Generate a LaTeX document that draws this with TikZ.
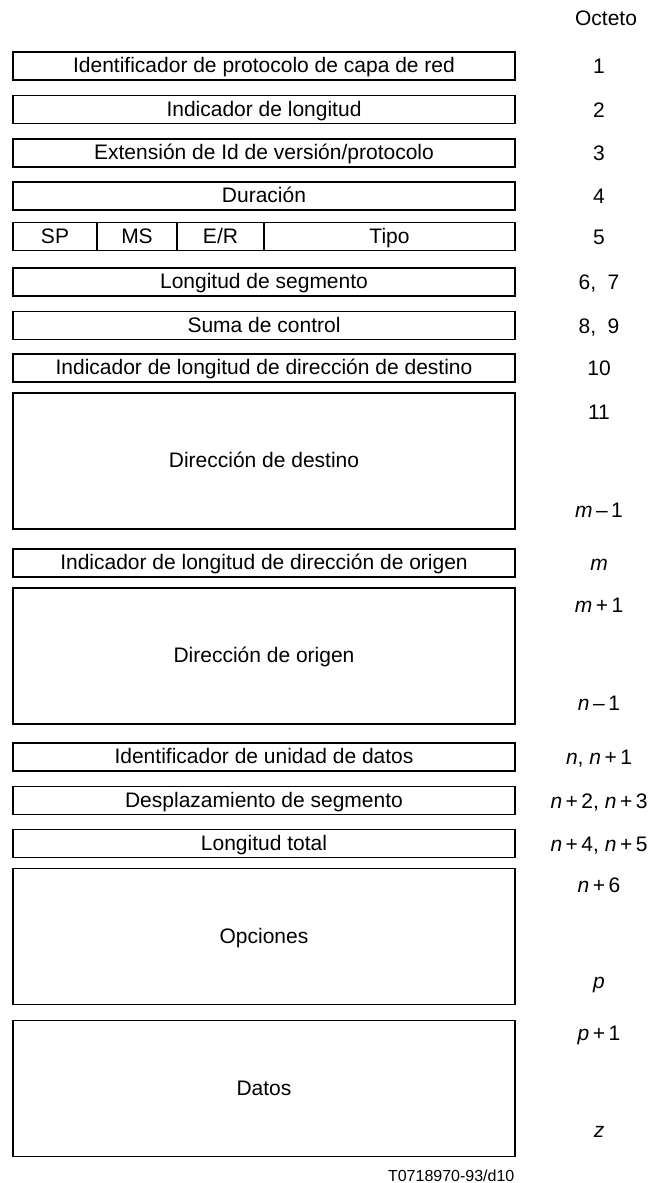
\documentclass[tikz,border=0pt]{standalone}
\usepackage{fontspec}
\setmainfont{Liberation Sans}
\usetikzlibrary{positioning}

\begin{document}
\begin{tikzpicture}[x=1pt,y=-1pt,line width=1.2pt,
		field/.style={draw,minimum width=502pt,minimum height=28pt,inner sep=0pt,outer sep=0pt,
			text height=13pt,text depth=0pt,font=\fontsize{21}{25}\selectfont},
		bigfield/.style={field,minimum height=136pt},
		octet/.style={inner sep=0pt,text height=15pt,text depth=0pt,font=\fontsize{21}{25}\selectfont}]

		\useasboundingbox (0,0) rectangle (650,1183);

		\node[octet] (oct) at (606,18) {Octeto};

		\node[field] (f1) at (264,66) {Identificador de protocolo de capa de red};
		\node[field] (f2) at (264,109.5) {Indicador de longitud};
		\node[field] (f3) at (264,153) {Extensión de Id de versión/protocolo};
		\node[field] (f4) at (264,196) {Duración};

		\node[field,minimum width=84pt] (sp) at (55,236.5) {SP};
		\node[field,minimum width=80pt] (ms) [right=0pt of sp] {MS};
		\node[field,minimum width=87pt] (er) [right=0pt of ms] {E/R};
		\node[field,minimum width=251pt] (tipo) [right=0pt of er] {Tipo};

		\node[field] (f6) at (264,282) {Longitud de segmento};
		\node[field] (f7) at (264,325.5) {Suma de control};
		\node[field] (f8) at (264,368) {Indicador de longitud de dirección de destino};
		\node[bigfield] (f9) at (264,461) {Dirección de destino};
		\node[field] (f10) at (264,563) {Indicador de longitud de dirección de origen};
		\node[bigfield] (f11) at (264,656) {Dirección de origen};
		\node[field] (f12) at (264,757) {Identificador de unidad de datos};
		\node[field] (f13) at (264,800.5) {Desplazamiento de segmento};
		\node[field] (f14) at (264,843.5) {Longitud total};
		\node[bigfield] (f15) at (264,936.5) {Opciones};
		\node[bigfield] (f16) at (264,1088.5) {Datos};

		% numeros de octeto
		\node[octet] (o1) at (599,66) {1};
		\node[octet] (o2) at (599,109.5) {2};
		\node[octet] (o3) at (599,153) {3};
		\node[octet] (o4) at (599,196) {4};
		\node[octet] (o5) at (599,236.5) {5};
		\node[octet] (o6) at (599,282) {6,\ \ 7};
		\node[octet] (o7) at (599,325.5) {8,\ \ 9};
		\node[octet] (o8) at (599,368) {10};
		\node[octet] (o9a) at (599,412) {11};
		\node[octet] (o9b) at (599,510) {\textit{m}\,–\,1};
		\node[octet] (o10) at (599,563) {\textit{m}};
		\node[octet] (o11a) at (599,605) {\textit{m}\,+\,1};
		\node[octet] (o11b) at (599,703) {\textit{n}\,–\,1};
		\node[octet] (o12) at (599,757) {\textit{n}, \textit{n}\,+\,1};
		\node[octet] (o13) at (599,800.5) {\textit{n}\,+\,2, \textit{n}\,+\,3};
		\node[octet] (o14) at (599,843.5) {\textit{n}\,+\,4, \textit{n}\,+\,5};
		\node[octet] (o15a) at (599,885) {\textit{n}\,+\,6};
		\node[octet] (o15b) at (599,980.5) {\textit{p}};
		\node[octet] (o16a) at (599,1033) {\textit{p}\,+\,1};
		\node[octet] (o16b) at (599,1129.5) {\textit{z}};

		\node[inner sep=0pt,text height=11pt,text depth=0pt,anchor=east,font=\fontsize{16}{19}\selectfont] (ref) at (515,1176) {T0718970-93/d10};
\end{tikzpicture}
\end{document}
